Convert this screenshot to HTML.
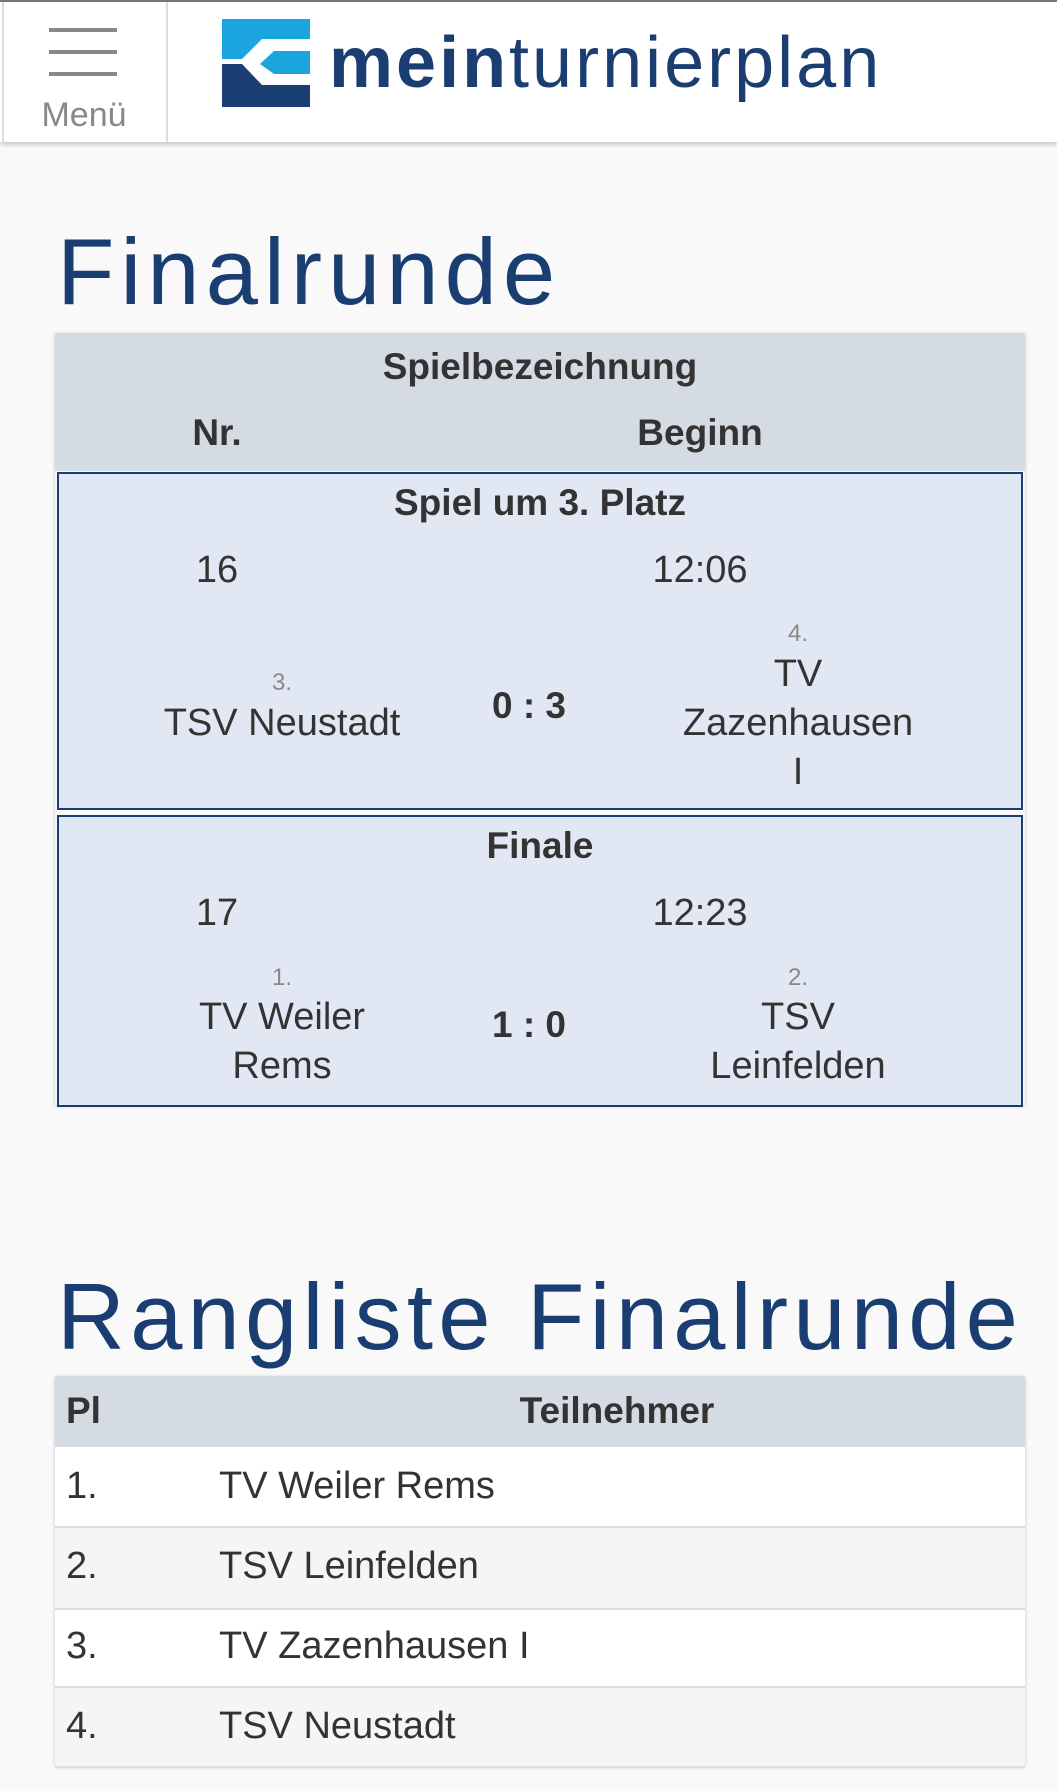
<!DOCTYPE html>
<html><head><meta charset="utf-8"><style>
body{margin:0;width:1057px;height:1791px;background:#f9f9f9;font-family:"Liberation Sans",sans-serif;position:relative;overflow:hidden;color:#333}
.a{position:absolute;white-space:nowrap}
.c{transform:translateX(-50%)}
.b{font-weight:bold;font-size:37px;color:#333}
.r{font-size:38px;color:#333}
.s{font-size:24px;color:#888}
h1{margin:0;position:absolute;font-weight:normal;color:#1a3e72;font-size:94px;line-height:1;letter-spacing:5px}
</style></head><body>
<div class="a" style="left:0;top:0;width:1057px;height:2px;background:#777"></div>
<div class="a" style="left:0;top:2px;width:1057px;height:140px;background:#fff;box-shadow:0 3px 4px rgba(0,0,0,.18)"></div>
<div class="a" style="left:166px;top:2px;width:2px;height:140px;background:#ddd"></div>
<div class="a" style="left:2px;top:2px;width:2px;height:140px;background:#ddd"></div>
<div class="a" style="left:49px;top:28px;width:68px;height:4px;background:#888"></div>
<div class="a" style="left:49px;top:50px;width:68px;height:4px;background:#888"></div>
<div class="a" style="left:49px;top:72px;width:68px;height:4px;background:#888"></div>
<div class="a c" style="left:84px;top:96px;font-size:34px;color:#888">Menü</div>
<svg class="a" style="left:222px;top:19px" width="88" height="88" viewBox="0 0 88 88">
<polygon points="0,0 88,0 88,20 40,20 20,40 0,40" fill="#1aa5de"/>
<polygon points="38,45 52,32 88,32 88,55 52,55" fill="#1aa5de"/>
<polygon points="0,45 20,45 40,66 88,66 88,88 0,88" fill="#1a3e72"/>
</svg>
<div class="a" style="left:329px;top:22px;font-size:72px;color:#1a3e72;letter-spacing:3px"><b>mein</b>turnierplan</div>

<h1 style="left:57px;top:225px;letter-spacing:6px">Finalrunde</h1>

<div class="a" style="left:55px;top:333px;width:970px;height:772px;box-shadow:0 1px 4px rgba(0,0,0,.2)"></div>
<div class="a" style="left:55px;top:333px;width:970px;height:138px;background:#d5dbe3"></div>
<div class="a c b" style="left:540px;top:346px">Spielbezeichnung</div>
<div class="a c b" style="left:217px;top:412px">Nr.</div>
<div class="a c b" style="left:700px;top:412px">Beginn</div>

<div class="a" style="left:57px;top:472px;width:962px;height:334px;background:#e2e8f3;border:2px solid #1a3e72"></div>
<div class="a c b" style="left:540px;top:482px">Spiel um 3. Platz</div>
<div class="a c r" style="left:217px;top:549px">16</div>
<div class="a c r" style="left:700px;top:549px">12:06</div>
<div class="a c s" style="left:282px;top:669px">3.</div>
<div class="a c r" style="left:282px;top:702px">TSV Neustadt</div>
<div class="a c b" style="left:529px;top:685px">0 : 3</div>
<div class="a c s" style="left:798px;top:620px">4.</div>
<div class="a c r" style="left:798px;top:653px">TV</div>
<div class="a c r" style="left:798px;top:702px">Zazenhausen</div>
<div class="a c r" style="left:798px;top:751px">I</div>

<div class="a" style="left:57px;top:815px;width:962px;height:288px;background:#e2e8f3;border:2px solid #1a3e72"></div>
<div class="a c b" style="left:540px;top:825px">Finale</div>
<div class="a c r" style="left:217px;top:892px">17</div>
<div class="a c r" style="left:700px;top:892px">12:23</div>
<div class="a c s" style="left:282px;top:964px">1.</div>
<div class="a c r" style="left:282px;top:996px">TV Weiler</div>
<div class="a c r" style="left:282px;top:1045px">Rems</div>
<div class="a c b" style="left:529px;top:1004px">1 : 0</div>
<div class="a c s" style="left:798px;top:964px">2.</div>
<div class="a c r" style="left:798px;top:996px">TSV</div>
<div class="a c r" style="left:798px;top:1045px">Leinfelden</div>

<h1 style="left:57px;top:1270px;letter-spacing:5.2px">Rangliste Finalrunde</h1>

<div class="a" style="left:55px;top:1376px;width:970px;height:390px;background:#fff;box-shadow:0 1px 4px rgba(0,0,0,.2)"></div>
<div class="a" style="left:55px;top:1376px;width:970px;height:71px;background:#d5dbe3"></div>
<div class="a b" style="left:66px;top:1390px">Pl</div>
<div class="a c b" style="left:617px;top:1390px">Teilnehmer</div>
<div class="a" style="left:55px;top:1526px;width:970px;height:80px;background:#f5f5f5;border-top:2px solid #ddd;border-bottom:2px solid #ddd"></div>
<div class="a" style="left:55px;top:1686px;width:970px;height:78px;background:#f5f5f5;border-top:2px solid #ddd;border-bottom:2px solid #ddd"></div>
<div class="a r" style="left:66px;top:1465px">1.</div><div class="a r" style="left:219px;top:1465px">TV Weiler Rems</div>
<div class="a r" style="left:66px;top:1545px">2.</div><div class="a r" style="left:219px;top:1545px">TSV Leinfelden</div>
<div class="a r" style="left:66px;top:1625px">3.</div><div class="a r" style="left:219px;top:1625px">TV Zazenhausen I</div>
<div class="a r" style="left:66px;top:1705px">4.</div><div class="a r" style="left:219px;top:1705px">TSV Neustadt</div>
</body></html>
